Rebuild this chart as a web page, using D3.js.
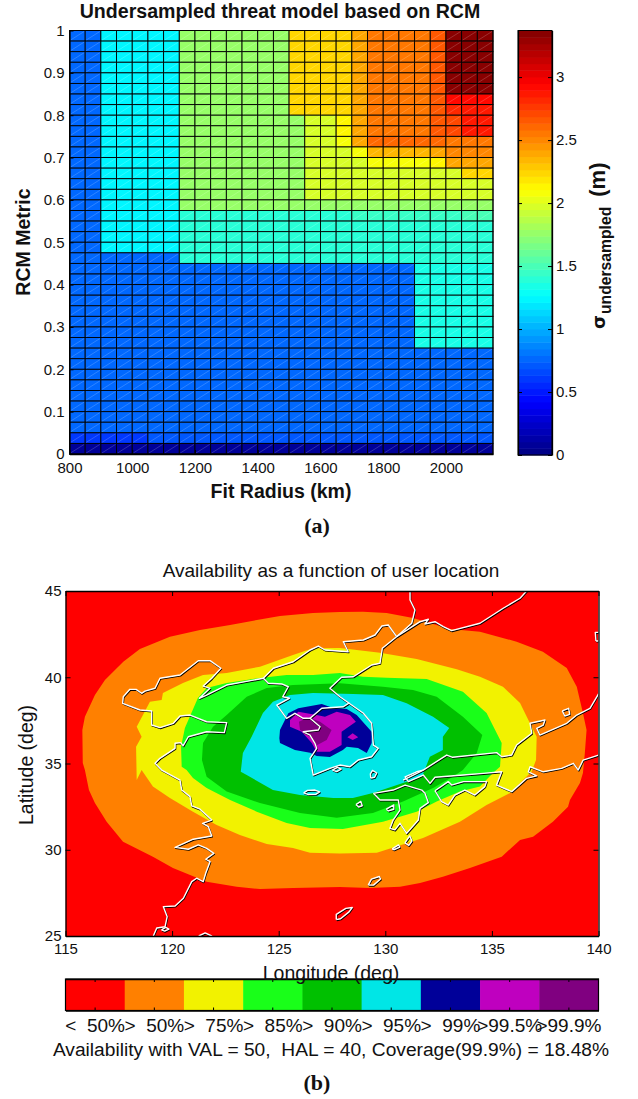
<!DOCTYPE html>
<html lang="en">
<head>
    <meta charset="UTF-8"/>
    <title>RCM threat model and availability map</title>
    <script src="https://d3js.org/d3.v7.min.js"></script>
    <style>
        body { margin: 0; background: #fff; }
        text { font-family: "Liberation Sans", Arial, sans-serif; fill: #111; white-space: pre; }
    </style>
</head>
<body>
<script>
// ---- panel (a) data ----
var fitRadius = [800,850,900,950,1000,1050,1100,1150,1200,1250,1300,1350,1400,1450,1500,1550,1600,1650,1700,1750,1800,1850,1900,1950,2000,2050,2100];
var rcmMetric = [0.975,0.95,0.925,0.9,0.875,0.85,0.825,0.8,0.775,0.75,0.725,0.7,0.675,0.65,0.625,0.6,0.575,0.55,0.525,0.5,0.475,0.45,0.425,0.4,0.375,0.35,0.325,0.3,0.275,0.25,0.225,0.2,0.175,0.15,0.125,0.1,0.075,0.05,0.025,0];

var rowTop    = [.76,.76,1.26,1.26,1.26,1.26,1.26,1.79,1.79,1.79,1.79,1.79,1.79,1.79,2.24,2.24,2.24,2.24,2.39,2.55,2.55,2.55,2.55,2.66,3.37,3.37,3.37];
var rowSix    = [.76,.76,1.26,1.26,1.26,1.26,1.26,1.79,1.79,1.79,1.79,1.79,1.79,1.79,2.24,2.24,2.24,2.24,2.39,2.55,2.55,2.55,2.55,2.66,2.92,2.92,2.92];
var rowSeven  = [.76,.76,1.26,1.26,1.26,1.26,1.26,1.79,1.79,1.79,1.79,1.79,1.79,1.79,2.24,2.24,2.24,2.24,2.39,2.55,2.55,2.55,2.55,2.66,2.8,2.85,2.85];
var rowEight  = [.76,.76,1.26,1.26,1.26,1.26,1.26,1.79,1.79,1.79,1.79,1.79,1.79,1.79,1.79,1.98,2.0,2.15,2.39,2.55,2.55,2.55,2.55,2.66,2.72,2.85,2.85];
var rowTen    = [.76,.76,1.26,1.26,1.26,1.26,1.26,1.79,1.79,1.79,1.79,1.79,1.79,1.79,1.79,1.98,2.0,2.1,2.39,2.6,2.6,2.6,2.6,2.6,2.55,2.55,2.55];
var rowEleven = [.76,.76,1.26,1.26,1.26,1.26,1.26,1.79,1.79,1.79,1.79,1.79,1.79,1.79,1.79,1.98,2.0,2.0,2.1,2.35,2.35,2.35,2.35,2.4,2.5,2.5,2.5];
var rowTwelve = [.76,.76,1.26,1.26,1.26,1.26,1.26,1.79,1.79,1.79,1.79,1.79,1.79,1.79,1.79,1.98,1.98,1.98,1.98,2.1,2.1,2.1,2.1,2.15,2.38,2.38,2.38];
var rowThirt  = [.76,.76,1.26,1.26,1.26,1.26,1.26,1.79,1.79,1.79,1.79,1.79,1.79,1.79,1.79,1.98,1.98,1.98,1.98,1.98,1.98,1.98,1.98,1.98,2.0,2.25,2.25];
var rowFourt  = [.76,.76,1.26,1.26,1.26,1.26,1.26,1.79,1.79,1.79,1.79,1.79,1.79,1.79,1.79,1.98,1.98,1.98,1.98,1.98,1.98,1.98,1.98,1.98,1.98,1.98,1.98];
var rowSixt   = [.76,.76,1.26,1.26,1.26,1.26,1.26,1.79,1.79,1.79,1.79,1.79,1.79,1.79,1.79,1.79,1.79,1.79,1.79,1.79,1.79,1.79,1.79,1.79,1.79,1.79,1.79];
var rowSevent = [.76,.76,1.26,1.26,1.26,1.26,1.26,1.38,1.38,1.38,1.38,1.38,1.38,1.38,1.38,1.38,1.38,1.38,1.45,1.45,1.45,1.45,1.45,1.45,1.45,1.5,1.5];
var rowTeal   = [.76,.76,1.26,1.26,1.26,1.26,1.26,1.38,1.38,1.38,1.38,1.38,1.38,1.38,1.38,1.38,1.38,1.38,1.38,1.38,1.38,1.38,1.38,1.38,1.38,1.38,1.38];
var rowStep   = [.76,.76,.76,.76,.76,.76,.76,1.38,1.38,1.38,1.38,1.38,1.38,1.38,1.38,1.38,1.38,1.38,1.38,1.38,1.38,1.38,1.38,1.38,1.38,1.38,1.38];
var rowCorner = [.76,.76,.76,.76,.76,.76,.76,.76,.76,.76,.76,.76,.76,.76,.76,.76,.76,.76,.76,.76,.76,.76,1.32,1.32,1.32,1.32,1.32];
var rowBlue   = [.76,.76,.76,.76,.76,.76,.76,.76,.76,.76,.76,.76,.76,.76,.76,.76,.76,.76,.76,.76,.76,.76,.76,.76,.76,.76,.76];
var rowLow    = [.62,.62,.62,.62,.62,.72,.72,.72,.72,.72,.72,.72,.72,.72,.72,.72,.72,.72,.72,.72,.72,.72,.72,.72,.72,.72,.72];
var rowZero   = [.06,.06,.06,.06,.06,.06,.06,.06,.06,.06,.06,.06,.06,.06,.06,.06,.06,.06,.06,.06,.06,.06,.06,.06,.06,.06,.06];

var sigmaRows = [rowTop,rowTop,rowTop,rowTop,rowTop,rowTop,rowSix,rowSeven,rowEight,rowEight,rowTen,rowEleven,rowTwelve,rowThirt,rowFourt,rowFourt,rowSixt,rowSevent,rowTeal,rowTeal,rowTeal,rowStep,
    rowCorner,rowCorner,rowCorner,rowCorner,rowCorner,rowCorner,rowCorner,rowCorner,rowBlue,rowBlue,rowBlue,rowBlue,rowBlue,rowBlue,rowBlue,rowBlue,rowLow,rowZero];

var sigmaTicks = [0,0.5,1,1.5,2,2.5,3];
var radiusTicks = [800,1000,1200,1400,1600,1800,2000];
var metricTicks = [0,0.1,0.2,0.3,0.4,0.5,0.6,0.7,0.8,0.9,1];

// ---- panel (b) data, [lon, lat] outlines ----
var bandOrange = [[115.79,36.94],[115.91,37.71],[116.38,38.97],[116.85,39.84],[117.71,40.9],[118.49,41.64],[119.9,42.35],[121.31,42.74],[122.72,43.03],[123.81,43.28],[125.06,43.55],[126.61,43.72],[127.87,43.78],[128.95,43.8],[130.06,43.72],[131.3,43.43],[133.03,42.8],[134.44,42.64],[136.16,42.06],[137.39,41.48],[138.51,40.54],[138.98,39.45],[139.27,37.93],[139.44,36.94],[139.36,35.61],[139.27,34.45],[139.13,33.87],[138.66,32.88],[138.57,32.5],[137.86,31.63],[136.93,30.76],[136.32,30.57],[135.46,29.6],[133.97,28.94],[132.7,28.44],[131.63,28.07],[130.69,27.86],[129.28,27.78],[127.87,27.84],[125.67,27.78],[124.12,27.72],[123.03,27.86],[121.62,28.15],[120.04,28.94],[119.1,29.6],[117.7,30.47],[116.93,31.63],[116.38,32.71],[116.1,33.46],[115.91,34.62],[115.81,35.03]];
var bandYellow = [[118.34,34.04],[118.31,35.97],[118.57,36.55],[118.34,37.13],[118.96,38.58],[119.51,38.68],[119.57,39.09],[120.51,39.67],[121.45,40.13],[122.56,40.25],[124.12,40.61],[125.67,41.29],[126.61,41.68],[127.87,41.7],[129.75,41.42],[131.47,41.06],[133.35,40.46],[134.44,40.03],[135.52,39.45],[136.32,38.51],[136.78,37.35],[137.1,36.55],[137.07,35.2],[136.86,34.52],[136.46,34.04],[135.85,33.29],[134.75,32.59],[133.5,31.63],[131.77,30.68],[129.6,29.83],[127.87,29.78],[126.47,29.83],[125.67,30.1],[124.44,30.33],[123.18,30.86],[122.09,31.44],[120.98,32.21],[119.9,33],[119.1,33.66],[118.57,34.62]];
var bandGreen = [[120.42,35.97],[120.6,37.06],[121.21,38.8],[121.62,39.38],[122.56,39.67],[124.12,39.96],[125.37,40.13],[126.61,40.13],[127.87,40.25],[128.95,40.03],[130.06,39.97],[131.94,39.9],[133.64,39.16],[134.75,37.93],[135.46,36.19],[135.38,34.81],[135.05,34.45],[134.44,33.66],[133.5,33.37],[132.41,32.79],[131.47,32.21],[129.89,31.63],[128.01,31.2],[126.47,31.26],[125.37,31.55],[123.97,32.21],[122.72,32.88],[121.62,33.58],[120.98,34.16],[120.68,34.62],[120.45,34.81]];
var bandDarkGreen = [[121.4,35.2],[121.45,36.19],[121.92,37.13],[122.56,37.81],[123.5,38.87],[124.44,39.38],[125.67,39.55],[127.87,39.65],[129.89,39.45],[131.3,39.26],[132.41,38.87],[133.64,37.71],[134.55,36.65],[134.29,35.61],[133.64,34.62],[133.17,34.23],[132.24,33.58],[130.83,32.79],[129.42,32.13],[127.72,31.86],[126,32.13],[124.12,32.71],[122.56,33.37],[121.62,34.23]];
var bandCyan = [[123.22,34.52],[123.32,35.61],[123.73,36.55],[124.26,37.93],[124.73,38.58],[125.53,38.97],[126.61,39.09],[128.48,39.03],[129.89,38.97],[131,38.49],[132.24,37.71],[133,37.06],[132.7,36.55],[132.7,35.78],[132.09,35.39],[131.72,34.23],[130.83,33.87],[129.42,33.29],[128.48,33],[127.56,33],[126,33.17],[124.73,33.46],[123.5,34.33]];
var bandNavy = [[125.03,36.46],[125.06,36.94],[125.45,37.91],[125.92,38.2],[127.02,38.45],[127.55,38.22],[128.19,38.16],[128.66,37.81],[129.36,36.84],[129.36,36.19],[129.13,35.61],[128.72,35.9],[128.19,35.97],[128.01,35.78],[127.4,35.38],[126.78,35.43],[126.47,35.63],[125.76,35.78],[125.06,36.19]];
var bandMagenta = [[125.53,37.52],[125.92,38],[126.78,37.81],[127.17,37.71],[127.72,38],[128.34,37.81],[128.62,37.42],[127.95,36.84],[127.95,36.07],[127.4,35.68],[126.78,35.68],[126.55,36.19],[126.08,36.84],[125.53,37.13]];
var bandMagentaSpot = [[128.22,36.52],[128.47,36.75],[128.73,36.52],[128.47,36.36]];
var bandPurple = [[125.95,37.42],[126.39,37.68],[126.94,37.42],[127.48,36.94],[127.25,36.36],[126.81,36.07],[126.47,36.65],[126,36.94]];

var availabilityBands = [bandOrange, bandYellow, bandGreen, bandDarkGreen, bandCyan, bandNavy, bandMagenta, bandMagentaSpot, bandPurple];
var bandColors = ["#ff8000","#f2f200","#19ff19","#00c000","#00e6e6","#000099","#bf00bf","#bf00bf","#800080"];

var mainCoast = [[119.12,25],[119.28,25.46],[119.67,25.54],[119.77,26.12],[119.59,26.7],[120.14,26.74],[120.53,27.19],[120.92,28.15],[121.15,28.35],[121.46,28.15],[121.58,28.65],[121.78,29.31],[121.58,29.45],[121.96,29.79],[121.62,30.08],[121.23,30.28],[120.76,30.03],[120.14,30.14],[120.99,30.61],[121.86,30.8],[121.7,31.34],[121.43,31.53],[121.86,31.72],[121.31,32.35],[120.92,32.54],[120.84,33.08],[120.45,33.46],[120.37,34.04],[119.51,34.62],[119.2,35.01],[119.43,35.3],[120.14,35.88],[120.14,36.17],[120.4,36.21],[120.52,36.03],[120.76,36.55],[121.62,36.84],[122.45,36.79],[122.56,37.37],[121.62,37.42],[120.84,37.81],[120.37,37.75],[120.06,37.33],[119.43,37.08],[119.04,37.23],[119.04,38.04],[118.49,38.1],[117.68,38.49],[117.71,38.87],[118.02,39.3],[118.31,39.3],[118.57,39.07],[118.73,39.2],[119.2,39.36],[119.43,39.94],[120.37,40.13],[121.23,40.96],[121.78,40.96],[122.29,40.52],[121.86,39.94],[121.46,39.49],[121.78,39.36],[121.28,38.78],[121.62,38.97],[122.56,39.55],[124.28,39.94],[124.51,39.65],[125.14,39.61],[125.45,39.45],[125.19,38.87],[125.5,38.78],[124.91,38.39],[125.37,37.62],[125.76,37.91],[126.15,37.62],[126.47,37.62],[126.94,37.13],[126.86,36.94],[126.15,36.84],[126.47,36.65],[126.7,36.17],[126.78,35.88],[126.47,35.3],[126.62,34.33],[127.4,34.72],[127.87,34.91],[128.34,34.81],[128.73,35.2],[129.36,35.39],[129.67,35.88],[129.44,36.07],[129.36,37.33],[128.97,37.91],[127.87,38.87],[127.4,39.36],[127.95,40],[128.5,40.03],[129.36,40.71],[129.75,40.81],[129.86,41.68],[130.53,42.35],[131.63,43.22],[132.02,43.36],[131.86,43.09],[132.33,43.22],[132.72,42.93],[133.11,42.7],[134.44,43.13],[135.53,44],[136.32,44.58],[136.63,45]];
var seamLine = [[126.47,37.62],[127.02,38.2],[128.03,38.29],[128.31,38.51]];
var borderLine = [[124.28,39.94],[124.75,40.52],[125.68,40.9],[126.47,41.58],[126.86,41.81],[127.17,41.58],[128.26,41.48],[128.03,42.06],[128.97,42.16],[129.52,42.45],[129.84,42.97],[130.14,43.03],[130.53,42.35]];
var riverLine = [[130.53,42.35],[131.24,43.13],[131.39,43.9],[131.16,44.48],[131.16,45]];
var honshuNorth = [[130.84,34.04],[131.78,34.62],[132.88,35.49],[133.16,35.36],[135.22,35.63],[135.46,35.39],[135.93,35.49],[136.16,36.07],[136.87,36.75],[136.79,37.33],[137.49,37.52],[137.41,37.23],[137.1,37.04],[137.25,36.65],[138.51,37.33],[138.98,37.81],[139.6,38.2],[139.94,38.91],[140,39.03]];
var honshuSouth = [[140,35.49],[139.28,35.2],[139.05,34.62],[138.82,35.01],[138.27,34.72],[137.41,34.52],[136.79,34.81],[136.71,34.52],[137.1,34.28],[136.63,34.14],[135.93,33.37],[135.22,33.75],[135.46,34.52],[134.6,34.43],[133.66,34.33],[132.33,34.2],[132.1,33.85],[131.78,34.33],[131.08,33.95],[130.93,34.23],[131.47,34.52],[131.78,34.62]];
var kyushu = [[129.44,33.27],[130.37,33.46],[130.93,33.75],[131.71,33.46],[131.86,33.27],[132.02,32.73],[131.63,32.4],[131.55,31.72],[131,30.95],[130.69,31.53],[130.45,31.15],[130.22,31.24],[130.37,31.72],[130.69,32.3],[130.61,32.88],[130.14,32.88],[129.75,32.88],[129.44,33.27]];
var shikoku = [[132.33,33.42],[132.95,33.95],[133.11,33.75],[133.66,33.95],[134.75,33.95],[134.67,33.66],[134.2,33.17],[133.73,33.46],[133.26,33.17],[132.95,32.59],[132.64,32.79],[132.33,33.42]];
var islandJeju = [[126.17,33.3],[126.4,33.2],[126.75,33.22],[126.92,33.35],[126.7,33.46],[126.35,33.44],[126.17,33.3]];
var islandGeoje = [[127.52,34.62],[127.72,34.53],[127.93,34.68],[127.75,34.78],[127.52,34.62]];
var islandTsushima = [[129.32,34.15],[129.5,34.2],[129.6,34.45],[129.4,34.6],[129.3,34.4],[129.32,34.15]];
var islandGoto = [[128.62,32.62],[128.85,32.8],[128.92,32.55],[128.75,32.48],[128.62,32.62]];
var islandAmakusa = [[130.05,32.35],[130.4,32.6],[130.4,32.35],[130.15,32.25],[130.05,32.35]];
var islandTanega = [[130.92,30.4],[131.15,30.8],[131.25,30.5],[131.1,30.25],[130.92,30.4]];
var islandYaku = [[130.32,30.05],[130.62,30.28],[130.68,30.15],[130.4,30],[130.32,30.05]];
var islandAmami = [[129.2,27.95],[129.35,28.3],[129.72,28.45],[129.78,28.3],[129.45,27.95],[129.2,27.95]];
var islandOkinawa = [[127.7,25.95],[127.7,26.25],[128.15,26.6],[128.45,26.65],[128.3,26.4],[127.9,26],[127.7,25.95]];
var islandMatsu = [[119.5,25.35],[119.7,25.5],[119.85,25.4],[119.65,25.28],[119.5,25.35]];
var islandTaiwan = [[121.25,25],[121.55,25.18],[121.85,25],[121.55,24.8],[121.25,25]];
var islandSado = [[138.3,38.05],[138.6,38.2],[138.65,37.85],[138.42,37.75],[138.3,38.05]];
var islandRishiri = [[139.88,42.1],[139.85,42.6],[140.1,42.6],[140.1,42.1],[139.88,42.1]];

var coastLines = [mainCoast, seamLine, borderLine, riverLine, honshuNorth, honshuSouth, kyushu, shikoku, islandJeju, islandGeoje, islandTsushima, islandGoto, islandAmakusa, islandTanega, islandYaku, islandAmami, islandOkinawa, islandMatsu, islandTaiwan, islandSado, islandRishiri];

var lonTicks = [115,120,125,130,135,140];
var latTicks = [25,30,35,40,45];
var legendLabels = ["<  50%",">  50%",">  75%",">  85%",">  90%",">  95%",">  99%",">99.5%",">99.9%"];
var legendColors = ["#ff0000","#ff8000","#f2f200","#19ff19","#00c000","#00e6e6","#000099","#bf00bf","#800080"];

// ---- page ----
var w = 638;
var h = 1099;
var svg = d3.select("body").append("svg").attr("width", w).attr("height", h).style("display", "block");

// MATLAB jet, 64 flat levels
var jetRamp = d3.scaleLinear()
    .domain([0, 0.125, 0.375, 0.625, 0.875, 1])
    .range(["#000080", "#0000ff", "#00ffff", "#ffff00", "#ff0000", "#800000"])
    .clamp(true);
var sigmaMax = 3.37;
var jetLevels = d3.range(64);
function jet(v) {
    var lvl = Math.min(63, Math.floor(v / sigmaMax * 64));
    return jetRamp((lvl + 0.5) / 64);
}

function styleAxis(g, fontSize) {
    g.selectAll(".domain").attr("stroke", "#000").attr("stroke-width", 1.3);
    g.selectAll("line").attr("stroke", "#000");
    g.selectAll("text").attr("font-size", fontSize).attr("fill", "#111");
}

// ==== panel (a) ====
var xA = d3.scaleLinear().domain([800, 2150]).range([69.5, 493]);
var yA = d3.scaleLinear().domain([0, 1]).range([454, 30.5]);
var cellW = xA(850) - xA(800);
var cellH = yA(0) - yA(0.025);

var cells = [];
sigmaRows.forEach(function (row, r) {
    row.forEach(function (v, c) {
        cells.push({ radius: fitRadius[c], metric: rcmMetric[r], value: v });
    });
});

var panelA = svg.append("g");
panelA.selectAll("rect.cell")
    .data(cells)
    .enter().append("rect")
    .attr("class", "cell")
    .attr("x", d => xA(d.radius))
    .attr("y", d => yA(d.metric + 0.025))
    .attr("width", cellW)
    .attr("height", cellH)
    .attr("fill", d => jet(d.value))
    .attr("stroke", "#000")
    .attr("stroke-width", 0.9);

// faint seam across every quad
panelA.selectAll("line.seam")
    .data(cells)
    .enter().append("line")
    .attr("class", "seam")
    .attr("x1", d => xA(d.radius) + 1)
    .attr("y1", d => yA(d.metric) - 1)
    .attr("x2", d => xA(d.radius) + cellW - 1)
    .attr("y2", d => yA(d.metric + 0.025) + 1)
    .attr("stroke", "#fff")
    .attr("stroke-opacity", 0.3)
    .attr("stroke-width", 0.6);

var axisAx = panelA.append("g").attr("transform", "translate(0,454)")
    .call(d3.axisBottom(xA).tickValues(radiusTicks).tickSizeInner(-4).tickSizeOuter(0).tickPadding(8).tickFormat(d3.format("d")));
styleAxis(axisAx, 15);
var axisAy = panelA.append("g").attr("transform", "translate(69.5,0)")
    .call(d3.axisLeft(yA).tickValues(metricTicks).tickSizeInner(-4).tickSizeOuter(0).tickPadding(5).tickFormat(d3.format("")));
styleAxis(axisAy, 15);
panelA.append("rect").attr("x", 69.5).attr("y", 30.5).attr("width", 423.5).attr("height", 423.5)
    .attr("fill", "none").attr("stroke", "#000").attr("stroke-width", 1);

panelA.append("text").attr("x", 280).attr("y", 18).attr("text-anchor", "middle")
    .attr("font-size", 19.6).attr("font-weight", "bold").text("Undersampled threat model based on RCM");
panelA.append("text").attr("x", 281).attr("y", 498).attr("text-anchor", "middle")
    .attr("font-size", 19.5).attr("font-weight", "bold").text("Fit Radius (km)");
panelA.append("text").attr("transform", "translate(30,242) rotate(-90)").attr("text-anchor", "middle")
    .attr("font-size", 19.5).attr("font-weight", "bold").text("RCM Metric");
panelA.append("text").attr("x", 317).attr("y", 533).attr("text-anchor", "middle")
    .style("font-family", "'Liberation Serif', serif")
    .attr("font-size", 22).attr("font-weight", "bold").text("(a)");

// colorbar of panel (a)
var yBar = d3.scaleLinear().domain([0, sigmaMax]).range([455, 30.5]);
var barA = svg.append("g");
barA.selectAll("rect")
    .data(jetLevels)
    .enter().append("rect")
    .attr("x", 518)
    .attr("y", d => yBar((d + 1) / 64 * sigmaMax))
    .attr("width", 34)
    .attr("height", d => yBar(d / 64 * sigmaMax) - yBar((d + 1) / 64 * sigmaMax) + 0.5)
    .attr("fill", d => jetRamp((d + 0.5) / 64));
var axisBar = barA.append("g").attr("transform", "translate(552,0)")
    .call(d3.axisRight(yBar).tickValues(sigmaTicks).tickSizeInner(-4).tickSizeOuter(0).tickPadding(4).tickFormat(d3.format("")));
styleAxis(axisBar, 15);
barA.append("g").attr("transform", "translate(518,0)")
    .call(d3.axisLeft(yBar).tickValues(sigmaTicks).tickSizeInner(-4).tickSizeOuter(0).tickFormat(""))
    .call(g => styleAxis(g, 15));
barA.append("rect").attr("x", 518).attr("y", 30.5).attr("width", 34).attr("height", 424.5)
    .attr("fill", "none").attr("stroke", "#000").attr("stroke-width", 1);

var barLabel = barA.append("text").attr("transform", "translate(605,329) rotate(-90)")
    .attr("font-weight", "bold");
barLabel.append("tspan").attr("font-size", 18).style("font-family", "'DejaVu Sans', sans-serif").text("σ");
barLabel.append("tspan").attr("font-size", 15.7).attr("dy", 6).attr("dx", 1).text("undersampled");
barLabel.append("tspan").attr("font-size", 22).attr("dy", -6).attr("dx", 10).text("(m)");

// ==== panel (b) ====
var xB = d3.scaleLinear().domain([115, 140]).range([65.5, 598.5]);
var yB = d3.scaleLinear().domain([25, 45]).range([936, 591]);
var outline = d3.line().x(d => xB(d[0])).y(d => yB(d[1]));

svg.append("clipPath").attr("id", "mapClip").append("rect")
    .attr("x", 65.5).attr("y", 591).attr("width", 533).attr("height", 345);

var panelB = svg.append("g");
var map = panelB.append("g").attr("clip-path", "url(#mapClip)");
map.append("rect").attr("x", xB(115)).attr("y", yB(45)).attr("width", xB(140) - xB(115)).attr("height", yB(25) - yB(45)).attr("fill", "#ff0000");
map.selectAll("path.band")
    .data(availabilityBands)
    .enter().append("path")
    .attr("class", "band")
    .attr("d", d => outline(d) + "Z")
    .attr("fill", (d, i) => bandColors[i]);

// coast is drawn twice, dark first, white on top
map.selectAll("path.coastDark")
    .data(coastLines)
    .enter().append("path")
    .attr("class", "coastDark")
    .attr("d", outline)
    .attr("transform", "translate(0.6,0.9)")
    .attr("fill", "none").attr("stroke", "#000").attr("stroke-width", 1.3).attr("stroke-linejoin", "round");
map.selectAll("path.coastWhite")
    .data(coastLines)
    .enter().append("path")
    .attr("class", "coastWhite")
    .attr("d", outline)
    .attr("fill", "none").attr("stroke", "#fff").attr("stroke-width", 1.4).attr("stroke-linejoin", "round");

var axisBx = panelB.append("g").attr("transform", "translate(0,936)")
    .call(d3.axisBottom(xB).tickValues(lonTicks).tickSizeInner(-5).tickSizeOuter(0).tickPadding(7).tickFormat(d3.format("d")));
styleAxis(axisBx, 15);
panelB.append("g").attr("transform", "translate(0,591)")
    .call(d3.axisTop(xB).tickValues(lonTicks).tickSizeInner(-5).tickSizeOuter(0).tickFormat(""))
    .call(g => styleAxis(g, 15));
var axisBy = panelB.append("g").attr("transform", "translate(65.5,0)")
    .call(d3.axisLeft(yB).tickValues(latTicks).tickSizeInner(-5).tickSizeOuter(0).tickPadding(4).tickFormat(d3.format("d")));
styleAxis(axisBy, 15);
panelB.append("g").attr("transform", "translate(598.5,0)")
    .call(d3.axisRight(yB).tickValues(latTicks).tickSizeInner(-5).tickSizeOuter(0).tickFormat(""))
    .call(g => styleAxis(g, 15));

panelB.append("text").attr("x", 331).attr("y", 577).attr("text-anchor", "middle")
    .attr("font-size", 19).text("Availability as a function of user location");
panelB.append("text").attr("transform", "translate(33,765) rotate(-90)").attr("text-anchor", "middle")
    .attr("font-size", 20.5).attr("textLength", 120).attr("lengthAdjust", "spacingAndGlyphs").text("Latitude (deg)");

// legend strip
var xLegend = d3.scaleBand().domain(legendLabels).range([65.5, 598.5]);
var legend = panelB.append("g");
legend.selectAll("rect")
    .data(legendLabels)
    .enter().append("rect")
    .attr("x", d => xLegend(d))
    .attr("y", 979)
    .attr("width", xLegend.bandwidth() + 0.5)
    .attr("height", 31.5)
    .attr("fill", (d, i) => legendColors[i]);
legend.append("g").attr("transform", "translate(0,1010.5)")
    .call(d3.axisBottom(xLegend).tickSizeInner(-3).tickSizeOuter(0).tickPadding(8.5))
    .call(g => styleAxis(g, 19));
legend.append("g").attr("transform", "translate(0,979)")
    .call(d3.axisTop(xLegend).tickSizeInner(-3).tickSizeOuter(0).tickFormat(""))
    .call(g => styleAxis(g, 19));
legend.append("rect").attr("x", 65.5).attr("y", 979).attr("width", 533).attr("height", 31.5)
    .attr("fill", "none").attr("stroke", "#000").attr("stroke-width", 1.2);

panelB.append("text").attr("x", 331).attr("y", 980).attr("text-anchor", "middle")
    .attr("font-size", 19.5).text("Longitude (deg)");
panelB.append("text").attr("x", 331).attr("y", 1056).attr("text-anchor", "middle")
    .attr("font-size", 19.2).text("Availability with VAL = 50,  HAL = 40, Coverage(99.9%) = 18.48%");
panelB.append("text").attr("x", 317).attr("y", 1090).attr("text-anchor", "middle")
    .style("font-family", "'Liberation Serif', serif")
    .attr("font-size", 22).attr("font-weight", "bold").text("(b)");
</script>
</body>
</html>
